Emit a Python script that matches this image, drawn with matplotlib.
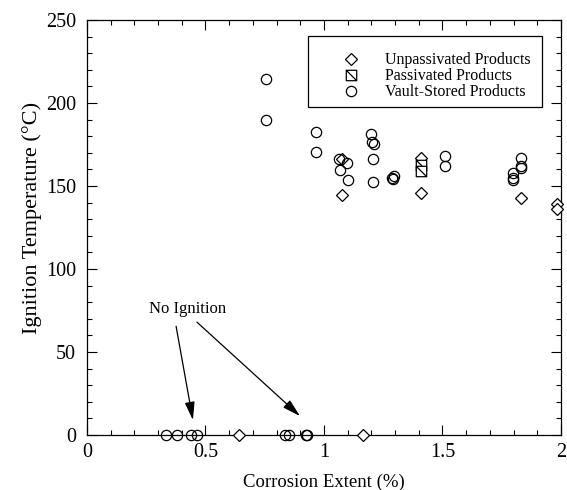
import matplotlib
matplotlib.use("Agg")
import matplotlib.pyplot as plt
from matplotlib.path import Path
from matplotlib.patches import Rectangle
from matplotlib.ticker import MultipleLocator

plt.rcParams['font.family'] = ['Liberation Serif', 'DejaVu Serif']

# Unpassivated products (diamonds)
unpass_x = [1.076, 1.076, 1.409, 1.409, 1.831, 1.983, 1.983, 0.641, 1.165]
unpass_y = [166.5, 144.8, 167.0, 146.0, 143.0, 139.4, 136.4, 0, 0]

# Passivated products (square with diagonal)
pass_x = [1.409, 1.409]
pass_y = [162.7, 159.3]

# Vault-stored products (circles)
vault_x = [0.755, 0.755, 0.966, 0.966, 1.097, 1.068, 1.101, 1.063,
           1.198, 1.203, 1.211, 1.207, 1.207, 1.287, 1.291, 1.295,
           1.511, 1.511, 1.831, 1.831, 1.831, 1.797, 1.797, 1.797,
           0.333, 0.380, 0.439, 0.464, 0.835, 0.853, 0.924, 0.930]
vault_y = [214.5, 189.9, 182.7, 170.7, 164.1, 159.9, 153.8, 166.5,
           181.5, 176.7, 175.5, 166.5, 152.6, 155.0, 154.0, 156.0,
           168.3, 162.3, 167.0, 162.3, 161.0, 158.0, 155.0, 153.8,
           0, 0, 0, 0, 0, 0, 0, 0]

fig = plt.figure(figsize=(5.67, 4.90), dpi=100)
ax = fig.add_axes([0.1534, 0.1122, 0.8360, 0.8470])

sq_verts = [(-0.5, -0.5), (0.5, -0.5), (0.5, 0.5), (-0.5, 0.5), (-0.5, -0.5),
            (-0.5, 0.5), (0.5, -0.5)]
sq_codes = [Path.MOVETO, Path.LINETO, Path.LINETO, Path.LINETO, Path.CLOSEPOLY,
            Path.MOVETO, Path.LINETO]
sq_marker = Path(sq_verts, sq_codes)

ax.plot(unpass_x, unpass_y, linestyle='none', marker='D', markersize=5.8,
        markerfacecolor='white', markeredgecolor='black', markeredgewidth=0.9,
        clip_on=False, label='Unpassivated Products', zorder=3)
ax.plot(pass_x, pass_y, linestyle='none', marker=sq_marker, markersize=7.5,
        markerfacecolor='white', markeredgecolor='black', markeredgewidth=0.9,
        clip_on=False, label='Passivated Products', zorder=3)
ax.plot(vault_x, vault_y, linestyle='none', marker='o', markersize=7.4,
        markerfacecolor='none', markeredgecolor='black', markeredgewidth=0.9,
        clip_on=False, label='Vault-Stored Products', zorder=4)

ax.set_xlim(0, 2)
ax.set_ylim(0, 250)
ax.xaxis.set_major_locator(MultipleLocator(0.5))
ax.xaxis.set_minor_locator(MultipleLocator(0.1))
ax.yaxis.set_major_locator(MultipleLocator(50))
ax.yaxis.set_minor_locator(MultipleLocator(10))
ax.xaxis.set_major_formatter(plt.FuncFormatter(lambda v, p: f"{v:g}"))
ax.tick_params(which='both', direction='in', top=True, right=True,
               labelsize=14.5, width=0.8)
ax.tick_params(which='major', length=7)
ax.tick_params(which='minor', length=3.5)
ax.tick_params(axis='x', pad=6)
ax.tick_params(axis='y', pad=8)
for s in ax.spines.values():
    s.set_linewidth(0.9)

ax.set_xlabel('Corrosion Extent (%)', fontsize=13.5, labelpad=8)
ax.set_ylabel('Ignition Temperature (°C)', fontsize=16)
ax.yaxis.set_label_coords(-0.095, 0.524)

# legend frame drawn separately so the entries can sit lower inside it
ax.add_patch(Rectangle((0.466, 0.791), 0.494, 0.1705, transform=ax.transAxes,
                       facecolor='white', edgecolor='black', linewidth=0.9,
                       zorder=5))
leg = ax.legend(loc='upper right', bbox_to_anchor=(0.960, 0.9495), fontsize=11.5,
                frameon=False, handletextpad=0.15, borderpad=0.7,
                labelspacing=0.0, handlelength=4.0, borderaxespad=0)
leg.set_zorder(6)

ax.text(0.426, 75.7, 'No Ignition', fontsize=12, ha='center', va='center')
ax.annotate('', xy=(0.447, 9), xytext=(0.376, 65.5),
            arrowprops=dict(arrowstyle='-|>,head_length=1.1,head_width=0.3',
                            color='black', lw=0.9, shrinkA=0, shrinkB=0))
ax.annotate('', xy=(0.899, 11.4), xytext=(0.464, 68),
            arrowprops=dict(arrowstyle='-|>,head_length=1.1,head_width=0.3',
                            color='black', lw=0.9, shrinkA=0, shrinkB=0))

fig.savefig('out.png', dpi=100)
